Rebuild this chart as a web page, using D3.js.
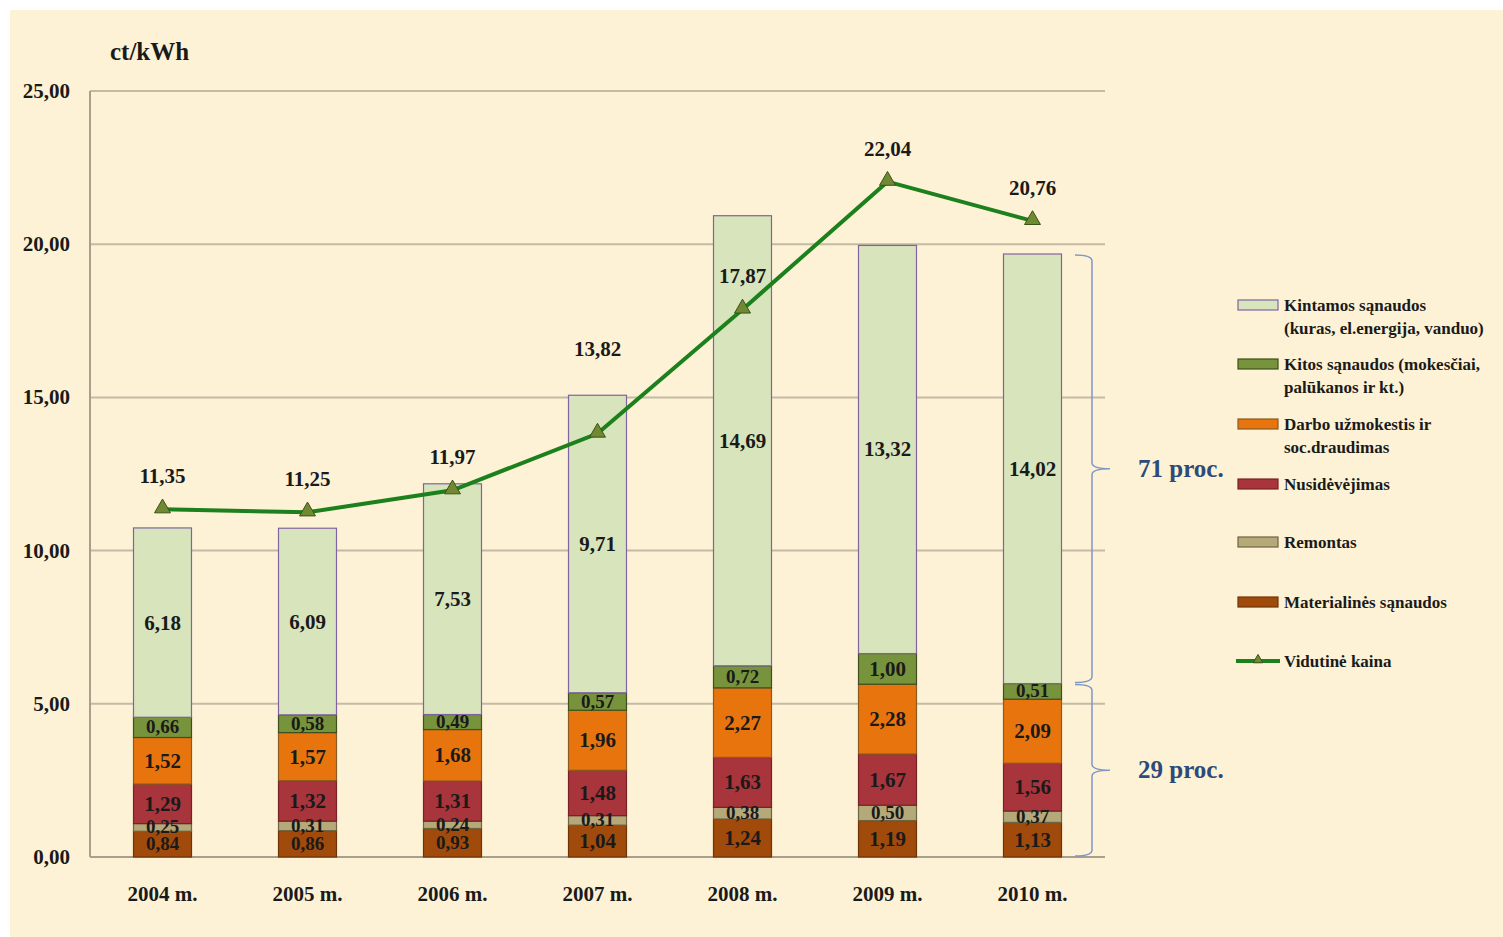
<!DOCTYPE html>
<html lang="lt">
<head>
    <meta charset="UTF-8">
    <title>Savikainos struktūra</title>
    <style>
        body { margin: 0; background: #ffffff; }
        svg { display: block; }
        text { font-family: "Liberation Serif", "Times New Roman", serif; font-weight: bold; fill: #1a1a1a; }
        .seg-label { font-size: 21px; }
        .small-label { font-size: 19px; }
        .tick-label { font-size: 21px; }
        .legend-text { font-size: 17px; }
        .pct { font-size: 25px; fill: #2d4a78; }
    </style>
</head>
<body>
    <script src="https://d3js.org/d3.v7.min.js"></script>
    <script>
        const width = 1503;
        const height = 937;

        const years = ["2004 m.", "2005 m.", "2006 m.", "2007 m.", "2008 m.", "2009 m.", "2010 m."];
        const materialines = [0.84, 0.86, 0.93, 1.04, 1.24, 1.19, 1.13];
        const remontas = [0.25, 0.31, 0.24, 0.31, 0.38, 0.50, 0.37];
        const nusidevejimas = [1.29, 1.32, 1.31, 1.48, 1.63, 1.67, 1.56];
        const darbo = [1.52, 1.57, 1.68, 1.96, 2.27, 2.28, 2.09];
        const kitos = [0.66, 0.58, 0.49, 0.57, 0.72, 1.00, 0.51];
        const kintamos = [6.18, 6.09, 7.53, 9.71, 14.69, 13.32, 14.02];
        const vidutineKaina = [11.35, 11.25, 11.97, 13.82, 17.87, 22.04, 20.76];
        const yTicks = [0, 5, 10, 15, 20, 25];

        // bottom to top
        const series = [
            { name: "Materialinės sąnaudos", values: materialines, fill: "#a04a0c", stroke: "#6e3408" },
            { name: "Remontas", values: remontas, fill: "#b5a97a", stroke: "#6f6440" },
            { name: "Nusidėvėjimas", values: nusidevejimas, fill: "#a8343c", stroke: "#7a2028" },
            { name: "Darbo užmokestis ir|soc.draudimas", values: darbo, fill: "#e8740e", stroke: "#8a5a20" },
            { name: "Kitos sąnaudos (mokesčiai,|palūkanos ir kt.)", values: kitos, fill: "#77933c", stroke: "#3d4f1c" },
            { name: "Kintamos sąnaudos|(kuras, el.energija, vanduo)", values: kintamos, fill: "#d8e4bc", stroke: "#8064a2" }
        ];

        const fmt = v => v.toFixed(2).replace(".", ",");

        const svg = d3.select("body").append("svg")
            .attr("width", width)
            .attr("height", height);

        svg.append("rect")
            .attr("x", 10).attr("y", 10)
            .attr("width", width - 10).attr("height", height - 10)
            .attr("fill", "#fdf2d5");

        const x = d3.scaleBand()
            .domain(years)
            .range([90, 1105])
            .paddingInner(0.6)
            .paddingOuter(0.3);

        const y = d3.scaleLinear()
            .domain([0, 25])
            .range([857, 91]);

        // grid
        svg.append("g").selectAll("line")
            .data(yTicks)
            .join("line")
            .attr("x1", 90).attr("x2", 1105)
            .attr("y1", d => y(d)).attr("y2", d => y(d))
            .attr("stroke", d => d === 0 ? "#a89f8c" : "#c4baa6")
            .attr("stroke-width", 2);

        svg.append("line")
            .attr("x1", 90).attr("x2", 90)
            .attr("y1", y(25)).attr("y2", y(0))
            .attr("stroke", "#a89f8c").attr("stroke-width", 2);

        svg.append("g").selectAll("text")
            .data(yTicks)
            .join("text")
            .attr("class", "tick-label")
            .attr("x", 70)
            .attr("y", d => y(d) + 7)
            .attr("text-anchor", "end")
            .text(d => fmt(d));

        svg.append("text")
            .attr("x", 110).attr("y", 60)
            .style("font-size", "25px")
            .text("ct/kWh");

        svg.append("g").selectAll("text")
            .data(years)
            .join("text")
            .attr("class", "tick-label")
            .attr("x", d => x(d) + x.bandwidth() / 2)
            .attr("y", 901)
            .attr("text-anchor", "middle")
            .text(d => d);

        // stacked bars
        const stacked = years.map((yr, i) => {
            let base = 0;
            return series.map(s => {
                const seg = { year: yr, y0: base, y1: base + s.values[i], v: s.values[i], s };
                base += s.values[i];
                return seg;
            });
        });

        const barG = svg.append("g");
        stacked.forEach(col => {
            barG.selectAll(null)
                .data(col)
                .enter()
                .append("rect")
                .attr("x", d => x(d.year))
                .attr("y", d => y(d.y1))
                .attr("width", x.bandwidth())
                .attr("height", d => y(d.y0) - y(d.y1))
                .attr("fill", d => d.s.fill)
                .attr("stroke", d => d.s.stroke)
                .attr("stroke-width", 1.2);
        });
        stacked.forEach(col => {
            barG.selectAll(null)
                .data(col)
                .enter()
                .append("text")
                .attr("class", d => d.v < 1 ? "small-label" : "seg-label")
                .attr("x", d => x(d.year) + x.bandwidth() / 2)
                .attr("y", d => (y(d.y0) + y(d.y1)) / 2 + (d.v < 1 ? 6 : 7))
                .attr("text-anchor", "middle")
                .text(d => fmt(d.v));
        });

        // average price line
        const pts = years.map((yr, i) => ({ year: yr, v: vidutineKaina[i] }));
        const line = d3.line()
            .x(d => x(d.year) + x.bandwidth() / 2)
            .y(d => y(d.v));

        svg.append("path")
            .datum(pts)
            .attr("d", line)
            .attr("fill", "none")
            .attr("stroke", "#1c801c")
            .attr("stroke-width", 4);

        const tri = d3.symbol().type(d3.symbolTriangle).size(110);
        svg.append("g").selectAll("path")
            .data(pts)
            .join("path")
            .attr("d", tri)
            .attr("transform", d => `translate(${x(d.year) + x.bandwidth() / 2},${y(d.v) - 1})`)
            .attr("fill", "#6f8a33")
            .attr("stroke", "#3d5018")
            .attr("stroke-width", 1);

        // 2007 label sits above its bar instead of on the line
        const liftLabel = { "2007 m.": 52 };
        svg.append("g").selectAll("text")
            .data(pts)
            .join("text")
            .attr("class", "seg-label")
            .attr("x", d => x(d.year) + x.bandwidth() / 2)
            .attr("y", d => y(d.v) - 26 - (liftLabel[d.year] || 0))
            .attr("text-anchor", "middle")
            .text(d => fmt(d.v));

        // braces for last bar
        const last = years.length - 1;
        const fixedSum = series.slice(0, 5).reduce((a, s) => a + s.values[last], 0);
        const total = fixedSum + kintamos[last];

        function brace(yTop, yBot) {
            const xe = 1075, xs = 1092, xt = 1110, r = 6;
            const ym = (yTop + yBot) / 2;
            return `M${xe},${yTop} Q${xs},${yTop} ${xs},${yTop + r}` +
                ` L${xs},${ym - r} Q${xs},${ym} ${xt},${ym}` +
                ` Q${xs},${ym} ${xs},${ym + r}` +
                ` L${xs},${yBot - r} Q${xs},${yBot} ${xe},${yBot}`;
        }

        const braces = [
            { top: total, bot: fixedSum, pct: Math.round(kintamos[last] / total * 100) },
            { top: fixedSum, bot: 0, pct: Math.round(fixedSum / total * 100) }
        ];
        braces.forEach(b => {
            svg.append("path")
                .attr("d", brace(y(b.top) + 1, y(b.bot) - 1))
                .attr("fill", "none")
                .attr("stroke", "#7f97c8")
                .attr("stroke-width", 1.5);
            svg.append("text")
                .attr("class", "pct")
                .attr("x", 1138)
                .attr("y", (y(b.top) + y(b.bot)) / 2 + 8)
                .text(`${b.pct} proc.`);
        });

        // legend
        const legendItems = series.slice().reverse();
        const legendY = [305, 364, 424, 484, 542, 602];
        const leg = svg.append("g");
        legendItems.forEach((s, i) => {
            const yy = legendY[i];
            leg.append("rect")
                .attr("x", 1238).attr("y", yy - 5)
                .attr("width", 40).attr("height", 10)
                .attr("fill", s.fill)
                .attr("stroke", s.stroke)
                .attr("stroke-width", 1.2);
            s.name.split("|").forEach((ln, j) => {
                leg.append("text")
                    .attr("class", "legend-text")
                    .attr("x", 1284)
                    .attr("y", yy + 6 + j * 23)
                    .text(ln);
            });
        });
        leg.append("line")
            .attr("x1", 1236).attr("x2", 1280)
            .attr("y1", 661).attr("y2", 661)
            .attr("stroke", "#1c801c").attr("stroke-width", 4);
        leg.append("path")
            .attr("d", d3.symbol().type(d3.symbolTriangle).size(40))
            .attr("transform", "translate(1258,660)")
            .attr("fill", "#6f8a33")
            .attr("stroke", "#3d5018");
        leg.append("text")
            .attr("class", "legend-text")
            .attr("x", 1284).attr("y", 667)
            .text("Vidutinė kaina");
    </script>
</body>
</html>
